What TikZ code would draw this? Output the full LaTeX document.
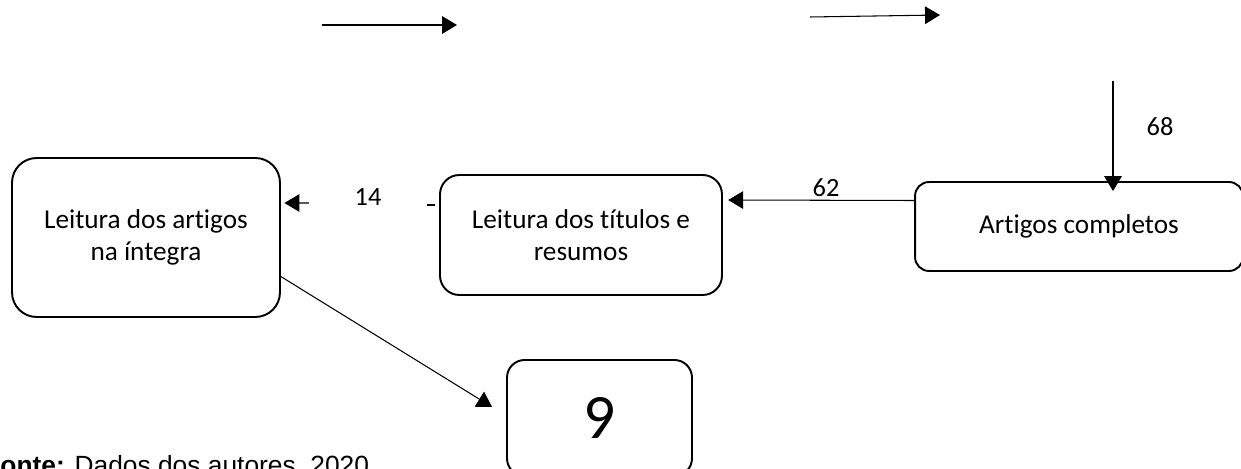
\documentclass[tikz,border=0pt]{standalone}
\usepackage{fontspec}
\setmainfont{Carlito}[Ligatures=NoCommon]
\newfontfamily\capfont{Liberation Sans}
\usetikzlibrary{arrows.meta}

\tikzset{
  stage/.style={draw,line width=1.1pt,align=center,inner sep=0pt,
    font=\fontsize{15.5}{18}\selectfont},
  flow/.style={line width=.6pt,-{Triangle[length=8.5pt,width=10pt]}},
  count/.style={font=\fontsize{15}{17}\selectfont}
}

\begin{document}
\begin{tikzpicture}[x=.02cm,y=-.02cm]
  \useasboundingbox (0,0) rectangle (1241,469);
  \clip (0,0) rectangle (1241,469);

  \node (full) [stage,rounded corners=14pt,minimum width=5.36cm,minimum height=3.18cm]
    at (146,237.5) {Leitura dos artigos\\na íntegra};
  \node (abst) [stage,rounded corners=11pt,minimum width=5.64cm,minimum height=2.4cm]
    at (581,235) {Leitura dos títulos e\\resumos};
  \node (arts) [stage,rounded corners=8pt,minimum width=6.56cm,minimum height=1.78cm]
    at (1079,226.5) {Artigos completos};
  \node (res) [stage,rounded corners=10pt,minimum width=3.7cm,minimum height=2.32cm,
    font=\fontsize{36}{40}\selectfont] at (599.5,418) {9};

  \path (322,25) coordinate (ta) (457,25) coordinate (tb);
  \path (810,17) coordinate (tc) (940,15) coordinate (td);
  \draw[flow] (ta) -- (tb);
  \draw[flow] (tc) -- (td);

  \path (arts.north) +(34,-100) coordinate (in);
  \path (arts.north) +(34,10) coordinate (ini);
  \draw[flow] (in) -- (ini);
  \node (n68) [count] at (1160,127) {68};

  \draw[flow] ([yshift=.52cm]arts.west) -- ([yshift=.7cm,xshift=3pt]abst.east);
  \node (n62) [count] at (826,188) {62};

  \path (abst.west) +(-12,-30) coordinate (da) +(-4,-30) coordinate (db);
  \draw[line width=.6pt] (da) -- (db);
  \path (full.east) +(28,-34.5) coordinate (fi);
  \draw[flow] (fi) -- ([yshift=.69cm,xshift=2pt]full.east);
  \node (n14) [count] at (368,197) {14};

  \draw[flow] ([yshift=-.76cm,xshift=-1pt]full.east)
    -- ([shift={(-.28cm,.22cm)}]res.west);

  \node (src) [anchor=base west,inner sep=0pt,font=\capfont\fontsize{15}{17}\selectfont]
    at (-16,475) {\textbf{Fonte:} Dados dos autores, 2020};
\end{tikzpicture}
\end{document}
